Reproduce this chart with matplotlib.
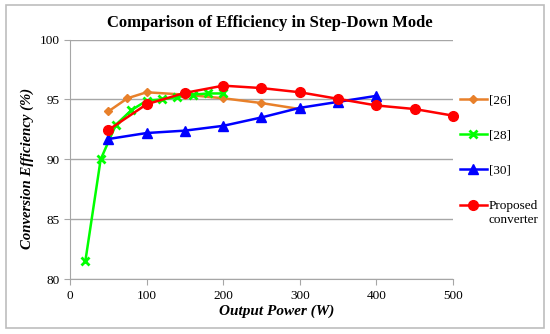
import matplotlib
matplotlib.use("Agg")
import matplotlib.pyplot as plt
from matplotlib.patches import Rectangle

# datos
p26 = [50, 75, 100, 150, 200, 250, 300]
e26 = [94.0, 95.1, 95.6, 95.4, 95.1, 94.7, 94.2]

p28 = [20, 40, 60, 80, 100, 120, 140, 160, 180, 200]
e28 = [81.5, 90.0, 92.9, 94.1, 94.9, 95.0, 95.2, 95.4, 95.5, 95.5]

p30 = [50, 100, 150, 200, 250, 300, 350, 400]
e30 = [91.7, 92.2, 92.4, 92.8, 93.5, 94.3, 94.8, 95.3]

p_prop = [50, 100, 150, 200, 250, 300, 350, 400, 450, 500]
e_prop = [92.45, 94.6, 95.55, 96.15, 95.95, 95.6, 95.05, 94.5, 94.2, 93.65]

xticks = [0, 100, 200, 300, 400, 500]
yticks = [80, 85, 90, 95, 100]

plt.rcParams["font.family"] = ["Liberation Serif", "DejaVu Serif"]

fig = plt.figure(figsize=(5.5, 3.34), dpi=100)
fig.patches.append(Rectangle((0.011, 0.018), 0.978, 0.968, transform=fig.transFigure,
                             fill=False, edgecolor="#BDBDBD", linewidth=1.2))
ax = fig.add_axes([0.1273, 0.1638, 0.6963, 0.7179])

ax.plot(p26, e26, color="#E8802A", lw=1.8, marker="D", ms=4.5, label="[26]", clip_on=False)
ax.plot(p28, e28, color="#00FF00", lw=1.8, marker="x", ms=6, mew=2, label="[28]", clip_on=False)
ax.plot(p30, e30, color="#0000FF", lw=1.8, marker="^", ms=7, label="[30]", clip_on=False)
ax.plot(p_prop, e_prop, color="#FF0000", lw=1.8, marker="o", ms=7,
        label="Proposed\nconverter", clip_on=False)

ax.set_xlim(0, 500)
ax.set_ylim(80, 100)
ax.set_xticks(xticks)
ax.set_yticks(yticks)
ax.yaxis.grid(True, color="#A6A6A6", lw=1)
ax.set_axisbelow(True)
for s in ["top", "right"]:
    ax.spines[s].set_visible(False)
for s in ["left", "bottom"]:
    ax.spines[s].set_color("#A6A6A6")
ax.tick_params(colors="#A6A6A6", labelcolor="black", labelsize=9.5, length=4, direction="out")

ax.set_title("Comparison of Efficiency in Step-Down Mode", fontsize=12, fontweight="bold",
             x=0.522, pad=9)
ax.set_xlabel("Output Power (W)", fontsize=11, fontweight="bold", style="italic")
ax.xaxis.set_label_coords(0.54, -0.135)
ax.xaxis.label.set_va("center")
ax.set_ylabel("Conversion Efficiency (%)", fontsize=10.6, fontweight="bold", style="italic")
ax.yaxis.set_label_coords(-0.112, 0.464)
ax.yaxis.label.set_va("center")

leg = ax.legend(loc="upper left", bbox_to_anchor=(1.005, 0.795), frameon=False, fontsize=9.5,
                handlelength=2.0, handletextpad=0.15, labelspacing=1.75, borderaxespad=0)

# subir el simbolo de la ultima entrada a la altura de la primera linea del texto
try:
    fila = leg._legend_handle_box.get_children()[0].get_children()[-1]
    for art in fila.get_children()[0].get_children():
        art.set_ydata([v + 5.6 for v in art.get_ydata()])
except Exception:
    pass

fig.savefig("out.png", dpi=100)
